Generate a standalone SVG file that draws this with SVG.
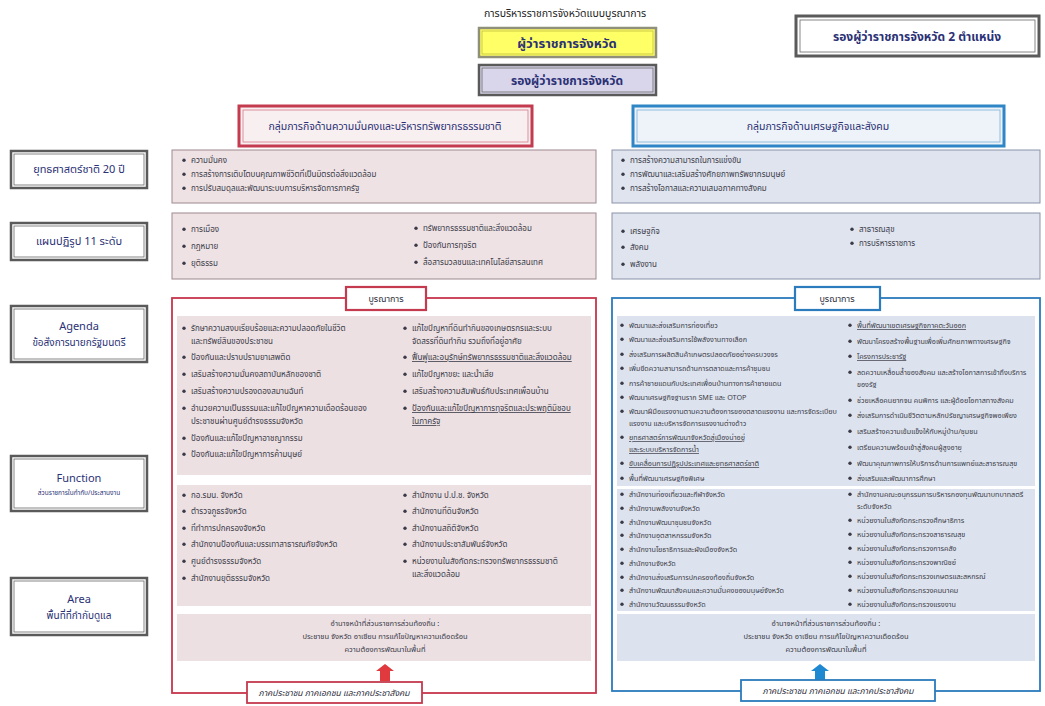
<svg xmlns="http://www.w3.org/2000/svg" width="1045" height="706" viewBox="0 0 1045 706">
<style>
text{font-family:"Noto Sans Thai","Noto Sans","DejaVu Sans","Liberation Sans",sans-serif}
.t{font-size:8px;fill:#3b3b48}
.ts{font-size:7.2px;fill:#3b3b48}
.u{text-decoration:underline}
.lbl{font-size:11px;fill:#2b3175;text-anchor:middle}
.lsub{font-size:6.5px;fill:#2b3175;text-anchor:middle}
.hd{font-size:10.5px;fill:#2b3175;text-anchor:middle}
.ctr{font-size:7.5px;fill:#3b3b48;text-anchor:middle}
.foot{font-size:8.5px;fill:#2b2b3a;text-anchor:middle;font-style:italic}
.outer{fill:#fff;stroke:#5a5a5a;stroke-width:2.5}
.inner{fill:none;stroke:#6a6a6a;stroke-width:0.8}
.pinkrow{fill:#eee2e5;stroke:#9d8a8f;stroke-width:1}
.bluerow{fill:#dfe4ef;stroke:#8a93a8;stroke-width:1}
.pinkfill{fill:#ece0e3}
.bluefill{fill:#dde3ee}
</style>
<defs>
<circle id="d" cx="0" cy="-2.7" r="1.7" fill="#3b3b48"/>
</defs>
<rect width="1045" height="706" fill="#fff"/>

<g id="title">
<text x="565" y="17" style="font-size:10.5px;fill:#222;text-anchor:middle">การบริหารราชการจังหวัดแบบบูรณาการ</text>
</g>

<g id="governor">
<rect x="479" y="28" width="177" height="29" fill="#ffff66" stroke="#8f8f7a" stroke-width="2.5"/>
<rect x="482" y="31" width="171" height="23" fill="none" stroke="#bdbd40" stroke-width="0.8"/>
<text x="567" y="48" style="font-size:13px;font-weight:bold;fill:#2b3175;text-anchor:middle">ผู้ว่าราชการจังหวัด</text>
</g>

<g id="deputy">
<rect x="479" y="65" width="177" height="30" fill="#d9d5ea" stroke="#5a5a5a" stroke-width="2.5"/>
<rect x="482" y="68" width="171" height="24" fill="none" stroke="#6a6a6a" stroke-width="0.8"/>
<text x="567" y="85" style="font-size:12px;font-weight:bold;fill:#2b3175;text-anchor:middle">รองผู้ว่าราชการจังหวัด</text>
</g>

<g id="deputy2">
<rect x="796" y="16" width="243" height="40" class="outer" style="stroke-width:3"/>
<rect x="800" y="20" width="235" height="32" class="inner"/>
<text x="917" y="41" style="font-size:12px;font-weight:bold;fill:#2b3175;text-anchor:middle">รองผู้ว่าราชการจังหวัด 2 ตำแหน่ง</text>
</g>

<g id="group-security">
<rect x="239" y="106" width="293" height="40" fill="#f8eff1" stroke="#c43a4e" stroke-width="3"/>
<rect x="243" y="110" width="285" height="32" fill="none" stroke="#d57a88" stroke-width="0.8"/>
<text x="385" y="130" class="hd">กลุ่มภารกิจด้านความมั่นคงและบริหารทรัพยากรธรรมชาติ</text>
</g>

<g id="group-economy">
<rect x="633" y="106" width="371" height="40" fill="#eef3f9" stroke="#2f86c6" stroke-width="3"/>
<rect x="637" y="110" width="363" height="32" fill="none" stroke="#7ab0da" stroke-width="0.8"/>
<text x="818" y="130" class="hd">กลุ่มภารกิจด้านเศรษฐกิจและสังคม</text>
</g>

<g id="label-strategy">
<rect x="11" y="151" width="136" height="37" class="outer"/>
<rect x="14" y="154" width="130" height="31" class="inner"/>
<text x="79" y="173" class="lbl">ยุทธศาสตร์ชาติ 20 ปี</text>
</g>
<g id="label-reform">
<rect x="11" y="223" width="136" height="37" class="outer"/>
<rect x="14" y="226" width="130" height="31" class="inner"/>
<text x="79" y="245" class="lbl">แผนปฏิรูป 11 ระดับ</text>
</g>
<g id="label-agenda">
<rect x="11" y="306" width="136" height="56" class="outer"/>
<rect x="14" y="309" width="130" height="50" class="inner"/>
<text x="79" y="330" class="lbl">Agenda</text>
<text x="79" y="346" class="lbl" style="font-size:10px">ข้อสั่งการนายกรัฐมนตรี</text>
</g>
<g id="label-function">
<rect x="11" y="456" width="136" height="55" class="outer"/>
<rect x="14" y="459" width="130" height="49" class="inner"/>
<text x="79" y="482" class="lbl">Function</text>
<text x="79" y="495" class="lsub">ส่วนราชการในกำกับ/ประสานงาน</text>
</g>
<g id="label-area">
<rect x="11" y="578" width="136" height="57" class="outer"/>
<rect x="14" y="581" width="130" height="51" class="inner"/>
<text x="79" y="603" class="lbl">Area</text>
<text x="79" y="619" class="lbl" style="font-size:10px">พื้นที่ที่กำกับดูแล</text>
</g>

<g id="strategy-left">
<rect x="172" y="150" width="424" height="53" class="pinkrow"/>
<use href="#d" x="184" y="163"/><text x="191" y="163" class="t">ความมั่นคง</text>
<use href="#d" x="184" y="177"/><text x="191" y="177" class="t">การสร้างการเติบโตบนคุณภาพชีวิตที่เป็นมิตรต่อสิ่งแวดล้อม</text>
<use href="#d" x="184" y="191"/><text x="191" y="191" class="t">การปรับสมดุลและพัฒนาระบบการบริหารจัดการภาครัฐ</text>
</g>
<g id="strategy-right">
<rect x="612" y="150" width="428" height="53" class="bluerow"/>
<use href="#d" x="623" y="163"/><text x="630" y="163" class="t">การสร้างความสามารถในการแข่งขัน</text>
<use href="#d" x="623" y="177"/><text x="630" y="177" class="t">การพัฒนาและเสริมสร้างศักยภาพทรัพยากรมนุษย์</text>
<use href="#d" x="623" y="191"/><text x="630" y="191" class="t">การสร้างโอกาสและความเสมอภาคทางสังคม</text>
</g>

<g id="reform-left">
<rect x="172" y="213" width="424" height="66" class="pinkrow"/>
<use href="#d" x="184" y="232"/><text x="191" y="232" class="t">การเมือง</text>
<use href="#d" x="184" y="249"/><text x="191" y="249" class="t">กฎหมาย</text>
<use href="#d" x="184" y="266"/><text x="191" y="266" class="t">ยุติธรรม</text>
<use href="#d" x="416" y="231"/><text x="423" y="231" class="t">ทรัพยากรธรรมชาติและสิ่งแวดล้อม</text>
<use href="#d" x="416" y="248"/><text x="423" y="248" class="t">ป้องกันการทุจริต</text>
<use href="#d" x="416" y="265"/><text x="423" y="265" class="t">สื่อสารมวลชนและเทคโนโลยีสารสนเทศ</text>
</g>
<g id="reform-right">
<rect x="612" y="213" width="428" height="66" class="bluerow"/>
<use href="#d" x="623" y="234"/><text x="630" y="234" class="t">เศรษฐกิจ</text>
<use href="#d" x="623" y="250"/><text x="630" y="250" class="t">สังคม</text>
<use href="#d" x="623" y="267"/><text x="630" y="267" class="t">พลังงาน</text>
<use href="#d" x="852" y="232"/><text x="859" y="232" class="t">สาธารณสุข</text>
<use href="#d" x="852" y="246"/><text x="859" y="246" class="t">การบริหารราชการ</text>
</g>

<g id="frame-left">
<rect x="172" y="298" width="424" height="395" fill="none" stroke="#c7364c" stroke-width="1.8"/>
<rect x="177" y="316" width="414" height="159" class="pinkfill"/>
<rect x="177" y="485" width="414" height="121" class="pinkfill"/>
<rect x="177" y="614" width="414" height="47" class="pinkfill"/>
</g>
<g id="frame-right">
<rect x="612" y="298" width="428" height="393" fill="none" stroke="#2b7bbd" stroke-width="1.8"/>
<rect x="617" y="316" width="418" height="170" class="bluefill"/>
<rect x="617" y="489" width="418" height="122" class="bluefill"/>
<rect x="617" y="614" width="418" height="47" class="bluefill"/>
</g>

<g id="integration-left">
<rect x="346" y="287" width="80" height="23" fill="#fff" stroke="#c43a4e" stroke-width="2.2"/>
<text x="386" y="302" style="font-size:9px;fill:#2b2b3a;text-anchor:middle">บูรณาการ</text>
</g>
<g id="integration-right">
<rect x="795" y="287" width="85" height="23" fill="#fff" stroke="#2b7bbd" stroke-width="2.2"/>
<text x="837" y="302" style="font-size:9px;fill:#2b2b3a;text-anchor:middle">บูรณาการ</text>
</g>

<g id="agenda-left">
<use href="#d" x="184" y="331"/><text x="191" y="331" class="t">รักษาความสงบเรียบร้อยและความปลอดภัยในชีวิต</text>
<text x="191" y="344" class="t">และทรัพย์สินของประชาชน</text>
<use href="#d" x="184" y="360"/><text x="191" y="360" class="t">ป้องกันและปราบปรามยาเสพติด</text>
<use href="#d" x="184" y="377"/><text x="191" y="377" class="t">เสริมสร้างความมั่นคงสถาบันหลักของชาติ</text>
<use href="#d" x="184" y="394"/><text x="191" y="394" class="t">เสริมสร้างความปรองดองสมานฉันท์</text>
<use href="#d" x="184" y="411"/><text x="191" y="411" class="t">อำนวยความเป็นธรรมและแก้ไขปัญหาความเดือดร้อนของ</text>
<text x="191" y="424" class="t">ประชาชนผ่านศูนย์ดำรงธรรมจังหวัด</text>
<use href="#d" x="184" y="441"/><text x="191" y="441" class="t">ป้องกันและแก้ไขปัญหาอาชญากรรม</text>
<use href="#d" x="184" y="457"/><text x="191" y="457" class="t">ป้องกันและแก้ไขปัญหาการค้ามนุษย์</text>
<use href="#d" x="405" y="331"/><text x="412" y="331" class="t">แก้ไขปัญหาที่ดินทำกินของเกษตรกรและระบบ</text>
<text x="412" y="344" class="t">จัดสรรที่ดินทำกิน รวมถึงที่อยู่อาศัย</text>
<use href="#d" x="405" y="360"/><text x="412" y="360" class="t u">ฟื้นฟูและอนุรักษ์ทรัพยากรธรรมชาติและสิ่งแวดล้อม</text>
<use href="#d" x="405" y="377"/><text x="412" y="377" class="t">แก้ไขปัญหาขยะ และน้ำเสีย</text>
<use href="#d" x="405" y="394"/><text x="412" y="394" class="t">เสริมสร้างความสัมพันธ์กับประเทศเพื่อนบ้าน</text>
<use href="#d" x="405" y="411"/><text x="412" y="411" class="t u">ป้องกันและแก้ไขปัญหาการทุจริตและประพฤติมิชอบ</text>
<text x="412" y="424" class="t u">ในภาครัฐ</text>
</g>

<g id="agenda-right">
<use href="#d" x="622" y="328"/><text x="629" y="328" class="ts">พัฒนาและส่งเสริมการท่องเที่ยว</text>
<use href="#d" x="622" y="342"/><text x="629" y="342" class="ts">พัฒนาและส่งเสริมการใช้พลังงานทางเลือก</text>
<use href="#d" x="622" y="357"/><text x="629" y="357" class="ts">ส่งเสริมการผลิตสินค้าเกษตรปลอดภัยอย่างครบวงจร</text>
<use href="#d" x="622" y="371"/><text x="629" y="371" class="ts">เพิ่มขีดความสามารถด้านการตลาดและการค้าชุมชน</text>
<use href="#d" x="622" y="386"/><text x="629" y="386" class="ts">การค้าชายแดนกับประเทศเพื่อนบ้านทางการค้าชายแดน</text>
<use href="#d" x="622" y="400"/><text x="629" y="400" class="ts">พัฒนาเศรษฐกิจฐานราก SME และ OTOP</text>
<use href="#d" x="622" y="414"/><text x="629" y="414" class="ts">พัฒนาฝีมือแรงงานตามความต้องการของตลาดแรงงาน และการจัดระเบียบ</text>
<text x="629" y="426" class="ts">แรงงาน และบริหารจัดการแรงงานต่างด้าว</text>
<use href="#d" x="622" y="440"/><text x="629" y="440" class="ts u">ยุทธศาสตร์การพัฒนาจังหวัดสู่เมืองน่าอยู่</text>
<text x="629" y="452" class="ts u">และระบบบริหารจัดการน้ำ</text>
<use href="#d" x="622" y="466"/><text x="629" y="466" class="ts u">ขับเคลื่อนการปฏิรูปประเทศและยุทธศาสตร์ชาติ</text>
<use href="#d" x="622" y="481"/><text x="629" y="481" class="ts">พื้นที่พัฒนาเศรษฐกิจพิเศษ</text>
<use href="#d" x="850" y="328"/><text x="857" y="328" class="ts u">พื้นที่พัฒนาเขตเศรษฐกิจภาคตะวันออก</text>
<use href="#d" x="850" y="344"/><text x="857" y="344" class="ts">พัฒนาโครงสร้างพื้นฐานเพื่อเพิ่มศักยภาพทางเศรษฐกิจ</text>
<use href="#d" x="850" y="359"/><text x="857" y="359" class="ts u">โครงการประชารัฐ</text>
<use href="#d" x="850" y="375"/><text x="857" y="375" class="ts">ลดความเหลื่อมล้ำของสังคม และสร้างโอกาสการเข้าถึงบริการ</text>
<text x="857" y="387" class="ts">ของรัฐ</text>
<use href="#d" x="850" y="403"/><text x="857" y="403" class="ts">ช่วยเหลือคนยากจน คนพิการ และผู้ด้อยโอกาสทางสังคม</text>
<use href="#d" x="850" y="418"/><text x="857" y="418" class="ts">ส่งเสริมการดำเนินชีวิตตามหลักปรัชญาเศรษฐกิจพอเพียง</text>
<use href="#d" x="850" y="434"/><text x="857" y="434" class="ts">เสริมสร้างความเข้มแข็งให้กับหมู่บ้าน/ชุมชน</text>
<use href="#d" x="850" y="450"/><text x="857" y="450" class="ts">เตรียมความพร้อมเข้าสู่สังคมผู้สูงอายุ</text>
<use href="#d" x="850" y="466"/><text x="857" y="466" class="ts">พัฒนาคุณภาพการให้บริการด้านการแพทย์และสาธารณสุข</text>
<use href="#d" x="850" y="481"/><text x="857" y="481" class="ts">ส่งเสริมและพัฒนาการศึกษา</text>
</g>

<g id="function-left">
<use href="#d" x="184" y="498"/><text x="191" y="498" class="t">กอ.รมน. จังหวัด</text>
<use href="#d" x="184" y="514"/><text x="191" y="514" class="t">ตำรวจภูธรจังหวัด</text>
<use href="#d" x="184" y="531"/><text x="191" y="531" class="t">ที่ทำการปกครองจังหวัด</text>
<use href="#d" x="184" y="547"/><text x="191" y="547" class="t">สำนักงานป้องกันและบรรเทาสาธารณภัยจังหวัด</text>
<use href="#d" x="184" y="564"/><text x="191" y="564" class="t">ศูนย์ดำรงธรรมจังหวัด</text>
<use href="#d" x="184" y="581"/><text x="191" y="581" class="t">สำนักงานยุติธรรมจังหวัด</text>
<use href="#d" x="405" y="498"/><text x="412" y="498" class="t">สำนักงาน ป.ป.ช. จังหวัด</text>
<use href="#d" x="405" y="514"/><text x="412" y="514" class="t">สำนักงานที่ดินจังหวัด</text>
<use href="#d" x="405" y="531"/><text x="412" y="531" class="t">สำนักงานสถิติจังหวัด</text>
<use href="#d" x="405" y="547"/><text x="412" y="547" class="t">สำนักงานประชาสัมพันธ์จังหวัด</text>
<use href="#d" x="405" y="564"/><text x="412" y="564" class="t">หน่วยงานในสังกัดกระทรวงทรัพยากรธรรมชาติ</text>
<text x="412" y="577" class="t">และสิ่งแวดล้อม</text>
</g>

<g id="function-right">
<use href="#d" x="622" y="497"/><text x="629" y="497" class="ts">สำนักงานท่องเที่ยวและกีฬาจังหวัด</text>
<use href="#d" x="622" y="511"/><text x="629" y="511" class="ts">สำนักงานพลังงานจังหวัด</text>
<use href="#d" x="622" y="525"/><text x="629" y="525" class="ts">สำนักงานพัฒนาชุมชนจังหวัด</text>
<use href="#d" x="622" y="538"/><text x="629" y="538" class="ts">สำนักงานอุตสาหกรรมจังหวัด</text>
<use href="#d" x="622" y="552"/><text x="629" y="552" class="ts">สำนักงานโยธาธิการและผังเมืองจังหวัด</text>
<use href="#d" x="622" y="566"/><text x="629" y="566" class="ts">สำนักงานจังหวัด</text>
<use href="#d" x="622" y="580"/><text x="629" y="580" class="ts">สำนักงานส่งเสริมการปกครองท้องถิ่นจังหวัด</text>
<use href="#d" x="622" y="593"/><text x="629" y="593" class="ts">สำนักงานพัฒนาสังคมและความมั่นคงของมนุษย์จังหวัด</text>
<use href="#d" x="622" y="607"/><text x="629" y="607" class="ts">สำนักงานวัฒนธรรมจังหวัด</text>
<use href="#d" x="850" y="497"/><text x="857" y="497" class="ts">สำนักงานคณะอนุกรรมการบริหารกองทุนพัฒนาบทบาทสตรี</text>
<text x="857" y="509" class="ts">ระดับจังหวัด</text>
<use href="#d" x="850" y="523"/><text x="857" y="523" class="ts">หน่วยงานในสังกัดกระทรวงศึกษาธิการ</text>
<use href="#d" x="850" y="537"/><text x="857" y="537" class="ts">หน่วยงานในสังกัดกระทรวงสาธารณสุข</text>
<use href="#d" x="850" y="551"/><text x="857" y="551" class="ts">หน่วยงานในสังกัดกระทรวงการคลัง</text>
<use href="#d" x="850" y="565"/><text x="857" y="565" class="ts">หน่วยงานในสังกัดกระทรวงพาณิชย์</text>
<use href="#d" x="850" y="579"/><text x="857" y="579" class="ts">หน่วยงานในสังกัดกระทรวงเกษตรและสหกรณ์</text>
<use href="#d" x="850" y="593"/><text x="857" y="593" class="ts">หน่วยงานในสังกัดกระทรวงคมนาคม</text>
<use href="#d" x="850" y="607"/><text x="857" y="607" class="ts">หน่วยงานในสังกัดกระทรวงแรงงาน</text>
</g>

<g id="area-left">
<text x="385" y="626" class="ctr">อำนาจหน้าที่ส่วนราชการส่วนท้องถิ่น :</text>
<text x="385" y="639" class="ctr">ประชาชน จังหวัด อาเซียน การแก้ไขปัญหาความเดือดร้อน</text>
<text x="385" y="652" class="ctr">ความต้องการพัฒนาในพื้นที่</text>
</g>
<g id="area-right">
<text x="826" y="626" class="ctr">อำนาจหน้าที่ส่วนราชการส่วนท้องถิ่น :</text>
<text x="826" y="639" class="ctr">ประชาชน จังหวัด อาเซียน การแก้ไขปัญหาความเดือดร้อน</text>
<text x="826" y="652" class="ctr">ความต้องการพัฒนาในพื้นที่</text>
</g>

<g id="connectors">
<path d="M385 664 L394 671 L390 671 L390 681 L380 681 L380 671 L376 671 Z" fill="#e0393e"/>
<path d="M820 664 L829 671 L825 671 L825 681 L815 681 L815 671 L811 671 Z" fill="#1e88d0"/>
</g>

<g id="civil-left">
<rect x="247" y="682" width="175" height="21" fill="#fff" stroke="#c43a4e" stroke-width="1.8"/>
<text x="334" y="696" class="foot">ภาคประชาชน ภาคเอกชน และภาคประชาสังคม</text>
</g>
<g id="civil-right">
<rect x="741" y="680" width="194" height="21" fill="#fff" stroke="#2b7bbd" stroke-width="1.8"/>
<text x="838" y="694" class="foot">ภาคประชาชน ภาคเอกชน และภาคประชาสังคม</text>
</g>
</svg>
